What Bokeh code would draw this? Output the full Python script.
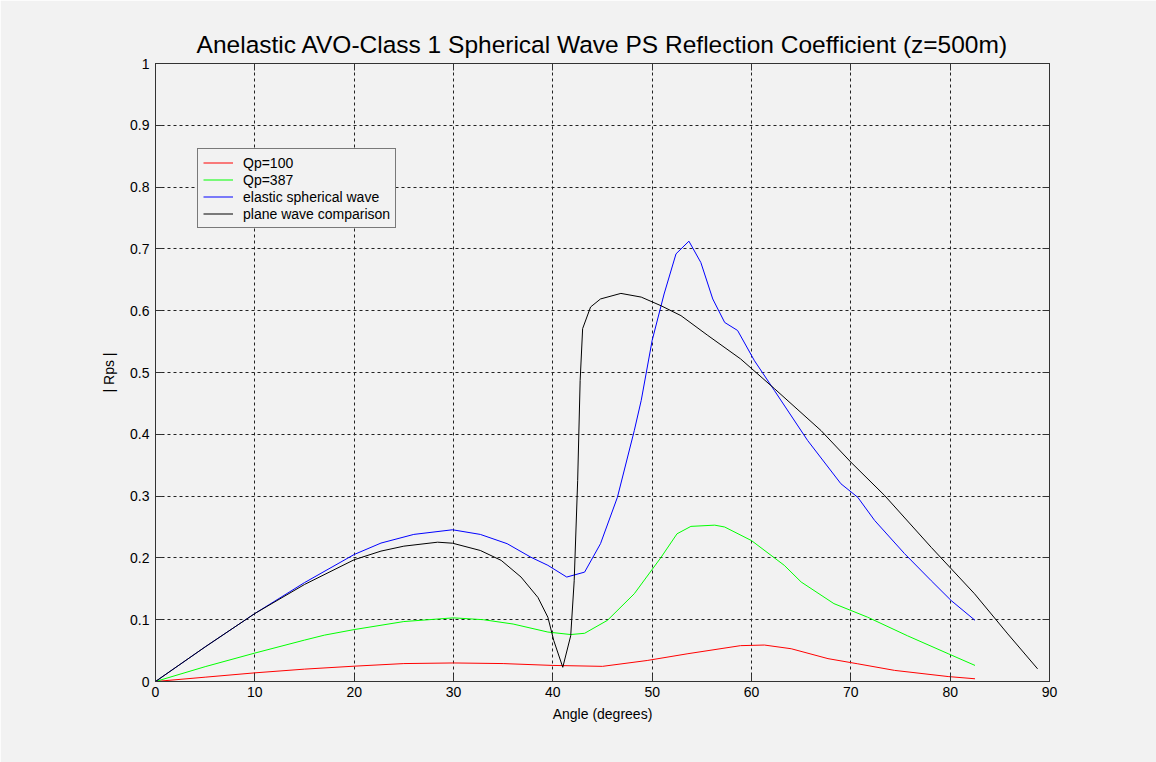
from bokeh.plotting import figure
from bokeh.models import (LinearAxis, FixedTicker, NumeralTickFormatter, Legend,
                          LegendItem, Range1d)
from bokeh.embed import file_html
from bokeh.resources import INLINE

# ---------------- data ----------------
ang_qp100 = [0, 5, 10, 15, 20, 25, 30, 35, 40, 45, 49.5, 53.6, 58.9, 61.3, 64,
             67.7, 70.7, 74.4, 79.8, 82.5]
rps_qp100 = [0, 0.007, 0.014, 0.020, 0.0248, 0.029, 0.030, 0.029, 0.026, 0.0245,
             0.034, 0.045, 0.058, 0.059, 0.053, 0.037, 0.0286, 0.018, 0.008, 0.0044]

ang_qp387 = [0, 5, 10, 15, 17, 20, 25, 30, 33, 36, 39.5, 41.8, 43.2, 45.5, 48.2,
             50.9, 52.5, 53.9, 56.3, 57.3, 60, 63.3, 65, 68.3, 71.7, 75.7, 79.8, 82.5]
rps_qp387 = [0, 0.024, 0.046, 0.067, 0.075, 0.084, 0.097, 0.103, 0.100, 0.093,
             0.080, 0.076, 0.078, 0.099, 0.142, 0.201, 0.239, 0.251, 0.253, 0.250,
             0.228, 0.188, 0.161, 0.126, 0.104, 0.074, 0.045, 0.026]

ang_elastic = [0, 5, 10, 15, 20, 22.7, 26, 29.9, 32.7, 35.4, 37.8, 39.5, 41.4,
               43.2, 44.8, 46.5, 48.2, 48.9, 50, 51.2, 52.4, 53.7, 54.9, 56.1,
               57.3, 58.6, 60.3, 62.3, 65.65, 69, 70.7, 72.4, 75.4, 78.1, 80.1, 82.5]
rps_elastic = [0, 0.056, 0.110, 0.160, 0.2055, 0.224, 0.238, 0.2455, 0.238, 0.223,
               0.201, 0.188, 0.169, 0.177, 0.223, 0.298, 0.406, 0.455, 0.552,
               0.627, 0.692, 0.7125, 0.678, 0.619, 0.581, 0.568, 0.519, 0.471,
               0.390, 0.320, 0.298, 0.2605, 0.207, 0.163, 0.131, 0.099]

ang_plane = [0, 5, 10, 15, 20, 22.7, 25, 28.4, 29.9, 32.7, 34.8, 36.8, 38.5, 39.5,
             40.1, 41, 41.8, 42.15, 42.5, 42.75, 43, 43.8, 44.8, 46.85, 48.9, 50.9,
             52.9, 55.6, 58.9, 62.3, 67, 70, 73.4, 78.1, 82.45, 85.8, 88.8]
rps_plane = [0, 0.056, 0.110, 0.157, 0.197, 0.211, 0.219, 0.2254, 0.2238, 0.212,
             0.196, 0.169, 0.136, 0.104, 0.066, 0.023, 0.074, 0.163, 0.325, 0.487,
             0.571, 0.606, 0.619, 0.628, 0.622, 0.608, 0.592, 0.560, 0.522, 0.474,
             0.406, 0.355, 0.301, 0.217, 0.142, 0.077, 0.0205]

series_names = ["Qp=100", "Qp=387", "elastic spherical wave", "plane wave comparison"]
series_colors = ["#ff0000", "#00ff00", "#0000ff", "#000000"]

x_ticks = [0, 10, 20, 30, 40, 50, 60, 70, 80, 90]
y_ticks = [0, 0.1, 0.2, 0.3, 0.4, 0.5, 0.6, 0.7, 0.8, 0.9, 1]

title_text = "Anelastic AVO-Class 1 Spherical Wave PS Reflection Coefficient (z=500m)"
x_label = "Angle (degrees)"
y_label = "| Rps |"

# ---------------- figure ----------------
FONT = "Liberation Sans"
BG = "#f2f2f2"
AX = "#333333"

p = figure(width=1156, height=762, output_backend="svg", toolbar_location=None,
           x_range=Range1d(0, 90), y_range=Range1d(0, 1),
           min_border_left=155, min_border_right=107, min_border_top=63,
           min_border_bottom=81, title=title_text)

p.background_fill_color = BG
p.border_fill_color = BG
p.outline_line_color = AX
p.outline_line_width = 1

p.title.align = "center"
p.title.text_font = FONT
p.title.text_font_size = "24.5px"
p.title.text_font_style = "normal"
p.title.text_color = "#000000"
p.title.standoff = 12

def style_axis(ax, show_labels=True):
    ax.axis_line_color = AX
    ax.major_tick_line_color = AX
    ax.major_tick_in = 7
    ax.major_tick_out = 0
    ax.minor_tick_line_color = None
    ax.major_label_text_font = FONT
    ax.major_label_text_font_size = "14px"
    ax.major_label_text_color = "#000000"
    ax.axis_label_text_font = FONT
    ax.axis_label_text_font_size = "14px"
    ax.axis_label_text_font_style = "normal"
    ax.axis_label_text_color = "#000000"
    if not show_labels:
        ax.major_label_text_font_size = "0px"
        ax.major_label_text_color = None

xax = p.xaxis[0]
yax = p.yaxis[0]
xax.ticker = FixedTicker(ticks=x_ticks)
yax.ticker = FixedTicker(ticks=y_ticks)
yax.formatter = NumeralTickFormatter(format="0.[0]")
style_axis(xax)
style_axis(yax)
xax.axis_label = x_label
yax.axis_label = y_label
xax.major_label_standoff = 5
xax.axis_label_standoff = 6
yax.major_label_standoff = 6
yax.axis_label_standoff = 10

top_ax = LinearAxis(ticker=FixedTicker(ticks=x_ticks))
right_ax = LinearAxis(ticker=FixedTicker(ticks=y_ticks))
style_axis(top_ax, show_labels=False)
style_axis(right_ax, show_labels=False)
p.add_layout(top_ax, "above")
p.add_layout(right_ax, "right")

p.xgrid.ticker = FixedTicker(ticks=x_ticks)
p.ygrid.ticker = FixedTicker(ticks=y_ticks)
for g in (p.xgrid[0], p.ygrid[0]):
    g.grid_line_color = "#222222"
    g.grid_line_dash = "3 3"
    g.grid_line_width = 1

# ---------------- lines ----------------
xs_all = [ang_qp100, ang_qp387, ang_elastic, ang_plane]
ys_all = [rps_qp100, rps_qp387, rps_elastic, rps_plane]
items = []
for xs, ys, name, col in zip(xs_all, ys_all, series_names, series_colors):
    r = p.line(xs, ys, line_color=col, line_width=1)
    items.append(LegendItem(label=name, renderers=[r]))

legend = Legend(items=items, location=(42, 453))
legend.border_line_color = "#000000"
legend.border_line_width = 1
legend.background_fill_color = BG
legend.background_fill_alpha = 1
legend.label_text_font = FONT
legend.label_text_font_size = "14px"
legend.label_text_color = "#000000"
legend.glyph_width = 30
legend.glyph_height = 17
legend.label_height = 17
legend.label_standoff = 10
legend.spacing = 0
legend.padding = 5
legend.margin = 0
p.add_layout(legend, "center")

open("out.html", "w").write(file_html(p, INLINE))
